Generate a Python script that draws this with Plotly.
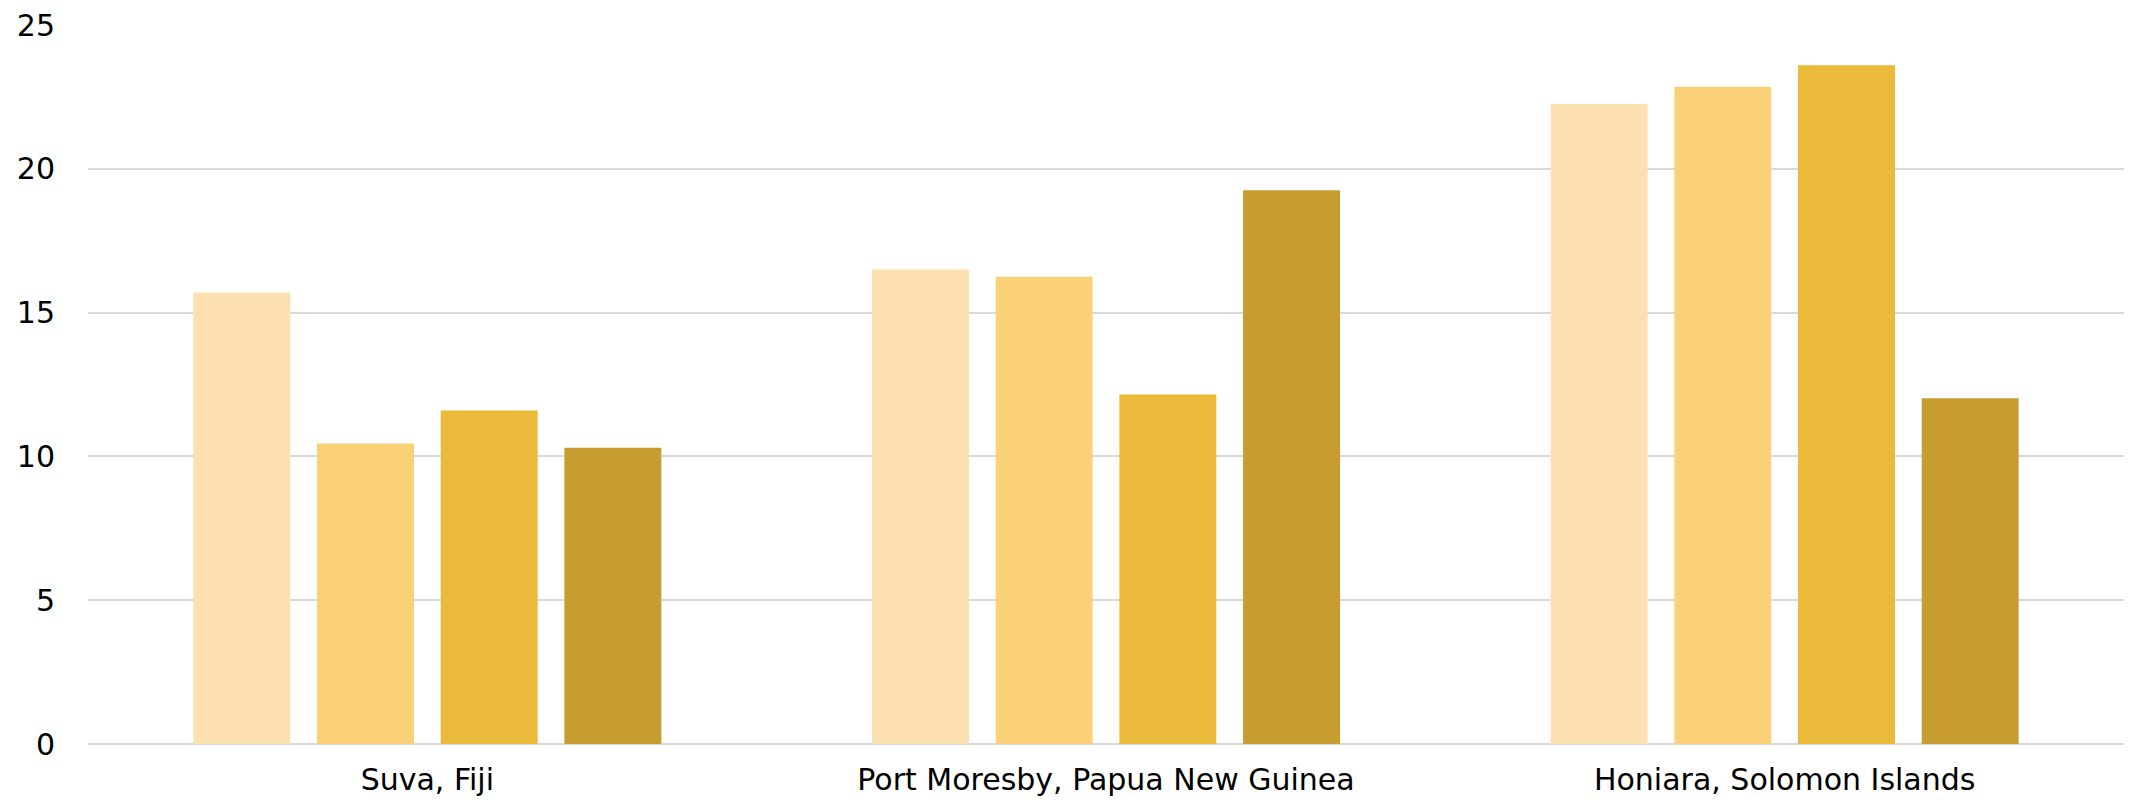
import plotly.graph_objects as go

categories = ["Suva, Fiji", "Port Moresby, Papua New Guinea", "Honiara, Solomon Islands"]
series_names = ["Series 1", "Series 2", "Series 3", "Series 4"]
series_1 = [15.7, 16.5, 22.25]
series_2 = [10.45, 16.25, 22.85]
series_3 = [11.6, 12.15, 23.6]
series_4 = [10.3, 19.25, 12.02]
y_ticks = [0, 5, 10, 15, 20, 25]

colors = ["#FCE0B2", "#FBD178", "#ECBA3B", "#C79D31"]
all_series = [series_1, series_2, series_3, series_4]

fig = go.Figure()
for name, vals, col in zip(series_names, all_series, colors):
    fig.add_trace(go.Bar(x=categories, y=vals, name=name,
                         marker=dict(color=col, line=dict(width=0))))

font_family = "'DejaVu Sans', sans-serif"
fig.update_layout(
    width=2131, height=806,
    margin=dict(l=88, r=7, t=25, b=62, autoexpand=False),
    paper_bgcolor="white", plot_bgcolor="white",
    barmode="group", bargap=0.271, bargroupgap=0.216,
    showlegend=False,
    font=dict(family=font_family, color="#000000", size=28),
)
fig.update_yaxes(range=[0, 25], tickvals=y_ticks, showgrid=True,
                 gridcolor="#D9D9D9", gridwidth=2, zeroline=True,
                 zerolinecolor="#D9D9D9", zerolinewidth=2,
                 showline=False, ticks="", ticklabelstandoff=32,
                 automargin=False,
                 tickfont=dict(size=30, family=font_family, color="#000000"))
fig.update_xaxes(showgrid=False, showline=False, ticks="",
                 ticklabelstandoff=15, automargin=False,
                 tickfont=dict(size=30, family=font_family, color="#000000"))

fig.write_html("out.html",
               config={"displayModeBar": False},
               post_script="document.body.style.margin='0';document.body.style.overflow='hidden';")
